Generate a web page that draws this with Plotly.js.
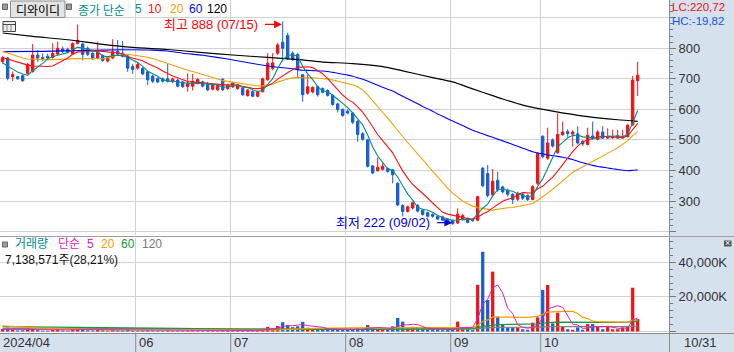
<!DOCTYPE html>
<html><head><meta charset="utf-8">
<script src="https://cdn.plot.ly/plotly-3.0.1.min.js"></script>
<style>html,body{margin:0;padding:0;background:#fff;overflow:hidden}#chart{width:734px;height:352px}</style>
</head><body><div id="chart"></div>
<script>
// ---------- data ----------
const monthLabels = ['2024/04', '06', '07', '08', '09', '10'];
const monthStartIdx = [0, 27, 46, 69, 90, 108];
const lastDateLabel = '10/31';
const highDateLabel = '07/15';
const lowDateLabel = '09/02';

const openP = [756,768,707,707,710,718,724,778,770,774, 770,781,798,797,781,816,814,800,783,768,
 776,758,768,790,784,775,740,735,734,723, 709,701,700,700,691,696,690,675,676,686,
 690,685,666,664,698,668,674,668,669,645, 658,643,658,697,734,784,820,842,784,780,
 713,653,657,674,668,662,646,618,600,594, 588,560,520,500,415,399,404,406,402,358,
 285,266,277,285,270,262,256,250,248,240, 237,228,240,243,239,237,407,390,320,368,
 346,335,322,306,322,318,305,358,512,440, 500,458,517,527,519,520,495,485,513,502,
 526,506,507,506,506,511,550,694];
const highP = [775,772,724,710,714,752,814,794,783,782, 816,822,806,802,820,878,818,806,788,822,
 780,774,830,827,824,778,748,752,738,727, 713,705,704,751,704,700,694,718,716,702,
 694,690,684,684,703,684,690,684,672,667, 662,661,704,784,784,818,888,851,790,784,
 716,713,676,678,672,666,650,622,603,600, 592,565,526,504,418,442,425,410,405,362,
 290,285,298,290,275,265,260,254,252,244, 240,276,258,246,242,317,412,418,405,396,
 350,340,326,330,328,322,352,460,515,540, 505,587,560,535,532,545,500,540,560,532,
 545,538,533,533,533,552,710,756];
const lowP = [750,695,693,697,690,714,720,756,758,762, 766,778,785,784,778,812,760,775,762,764,
 756,754,764,776,770,723,716,730,712,680, 686,686,688,688,686,672,670,658,662,682,
 672,660,662,660,660,664,670,664,644,642, 640,640,655,694,728,778,757,762,758,702,
 625,648,652,642,652,642,612,590,576,584, 552,494,498,410,388,396,400,393,358,283,
 250,262,272,263,252,246,245,238,234,225, 222,225,236,227,232,234,345,312,315,330,
 325,315,290,300,303,300,302,352,440,435, 475,455,512,510,478,485,480,482,500,498,
 503,503,503,504,504,508,545,644];
const closeP = [769,702,714,700,694,747,778,768,766,768, 783,800,790,788,815,826,780,780,766,788,
 760,770,789,781,774,735,731,747,716,697, 692,690,692,692,699,676,675,686,692,698,
 676,664,680,679,664,680,686,680,648,663, 643,657,700,751,752,811,800,767,763,730,
 648,674,672,648,656,646,616,600,580,588, 558,518,502,414,392,410,414,397,386,287,
 266,281,294,267,256,250,250,241,237,228, 226,257,252,230,236,314,350,318,365,337,
 330,322,305,325,309,305,347,456,445,490, 480,518,526,521,526,490,487,515,506,526,
 506,511,511,513,512,548,696,712];
const volumeK = [1500,2200,900,600,700,1300,2000,800,500,500, 1000,1200,600,500,1400,1800,1100,700,600,900,
 700,500,1000,700,600,1000,500,500,600,800, 500,400,400,700,400,500,400,600,700,500,
 400,500,400,400,600,400,500,400,600,500, 500,600,1500,2600,1800,3200,5400,3800,2500,3000,
 5600,2200,1500,1800,1200,1000,1500,1400,1300,900, 1200,1800,1400,3800,2600,1500,1200,1000,3000,7800,
 5700,1800,2700,1800,1800,1300,1300,1300,800,900, 1300,5700,2400,1800,800,27000,46100,18200,34600,8600,
 3800,2400,2400,2400,1300,1000,5100,8200,24000,26900, 4700,10900,3200,1300,1000,2400,1000,4300,4300,2700,
 1300,2700,1300,1300,2400,2700,25300,7139];

// moving-average values before enough visible history exists
const ma5Lead = [752, 742, 732, 722];
const ma10Lead = [770, 765, 760, 754, 749, 745, 742, 741, 741];
const ma20Lead = [790,784,778,772,768,765,764,763,763,763,763,764,764,765,765,766,766,766,766];
const ma60LeadIdx = [0, 8, 16, 24, 30, 33, 36, 40, 45, 50, 55, 58];
const ma60LeadVal = [789, 790, 793, 795, 794, 791, 784, 777, 765, 750, 738, 733];
const ma120Idx = [0,6,13,20,26,33,40,46,53,60,64,70,76,80,86,90,94,98,100,104,110,117,123,127];
const ma120Val = [850,839,828,813,803,796,786,778,770,762,755,750,740,726,704,690,667,645,634,614,594,576,566,561];

const volMa5Lead = [1200, 1300, 1300, 1200];
const volMa20Lead = [3200,3100,3000,2900,2700,2400,2200,2000,1900,1800,1700,1600,1500,1400,1300,1250,1200,1100,1050];
const volMa60LeadIdx = [0, 14, 35, 50, 58];
const volMa60LeadVal = [2800, 2500, 1800, 1200, 1050];
const volMa120Idx = [0, 45, 94, 95, 96, 97, 98, 107, 108, 109, 125, 126, 127];
const volMa120Val = [1800, 1500, 1400, 1620, 2000, 2150, 2430, 2450, 2640, 2860, 2870, 3070, 3100];

const priceTicks = [200, 300, 400, 500, 600, 700, 800, 900];
const priceTickText = ['', '300', '400', '500', '600', '700', '800', ''];
const volTicks = [0, 20000, 40000];
const volTickText = ['', '20,000K', '40,000K'];

// ---------- helpers ----------
const W = 734, H = 352;
const PX = x => x / W, PY = y => 1 - y / H;
const idx = closeP.map((_, i) => i);
function sma(values, n, lead) {
  return values.map((v, i) => {
    if (i < n - 1) return lead[i];
    let s = 0; for (let k = i - n + 1; k <= i; k++) s += values[k];
    return s / n;
  });
}
function smaTail(values, n, leadIdx, leadVal) {
  const xs = leadIdx.slice(), ys = leadVal.slice();
  for (let i = n - 1; i < values.length; i++) {
    let s = 0; for (let k = i - n + 1; k <= i; k++) s += values[k];
    xs.push(i); ys.push(s / n);
  }
  return {x: xs, y: ys};
}

const RED = '#f01414', BLUE = '#1a5fd0';
const C_TEAL = '#008c8c', C_RED = '#ff1010', C_ORANGE = '#f0a000', C_BLUE = '#0000ff', C_BLACK = '#000000';
const C_MAG = '#e020c8', C_GREEN = '#149a38', C_GRAY = '#808080';
const FONT_N = "'Liberation Sans Narrow', 'Liberation Sans', 'Noto Sans CJK KR', sans-serif";
const FONT_K = "'Noto Sans CJK KR', 'Liberation Sans', sans-serif";

const ma5 = sma(closeP, 5, ma5Lead);
const ma10 = sma(closeP, 10, ma10Lead);
const ma20 = sma(closeP, 20, ma20Lead);
const ma60 = smaTail(closeP, 60, ma60LeadIdx, ma60LeadVal);
const vma5 = sma(volumeK, 5, volMa5Lead);
const vma20 = sma(volumeK, 20, volMa20Lead);
const vma60 = smaTail(volumeK, 60, volMa60LeadIdx, volMa60LeadVal);
const barColors = closeP.map((c, i) => c >= openP[i] ? RED : BLUE);

const data = [
  {type: 'candlestick', x: idx, open: openP, high: highP, low: lowP, close: closeP,
   xaxis: 'x', yaxis: 'y', whiskerwidth: 0,
   increasing: {line: {color: RED, width: 1}, fillcolor: RED},
   decreasing: {line: {color: BLUE, width: 1}, fillcolor: BLUE}},
  {type: 'scatter', mode: 'lines', x: ma120Idx, y: ma120Val, line: {color: C_BLACK, width: 1.2, shape: 'spline', smoothing: 0.6}, xaxis: 'x', yaxis: 'y'},
  {type: 'scatter', mode: 'lines', x: ma60.x, y: ma60.y, line: {color: C_BLUE, width: 1.1, shape: 'spline', smoothing: 0.5}, xaxis: 'x', yaxis: 'y'},
  {type: 'scatter', mode: 'lines', x: idx, y: ma20, line: {color: C_ORANGE, width: 1.1}, xaxis: 'x', yaxis: 'y'},
  {type: 'scatter', mode: 'lines', x: idx, y: ma10, line: {color: C_RED, width: 1.1}, xaxis: 'x', yaxis: 'y'},
  {type: 'scatter', mode: 'lines', x: idx, y: ma5, line: {color: C_TEAL, width: 1.1}, xaxis: 'x', yaxis: 'y'},
  {type: 'bar', x: idx, y: volumeK, marker: {color: barColors, line: {width: 0}}, width: 0.66, xaxis: 'x', yaxis: 'y2'},
  {type: 'scatter', mode: 'lines', x: volMa120Idx, y: volMa120Val, line: {color: C_GRAY, width: 1.2, shape: 'spline', smoothing: 0.4}, xaxis: 'x', yaxis: 'y2'},
  {type: 'scatter', mode: 'lines', x: vma60.x, y: vma60.y, line: {color: C_GREEN, width: 1.2}, xaxis: 'x', yaxis: 'y2'},
  {type: 'scatter', mode: 'lines', x: idx, y: vma20, line: {color: C_ORANGE, width: 1.2}, xaxis: 'x', yaxis: 'y2'},
  {type: 'scatter', mode: 'lines', x: idx, y: vma5, line: {color: C_MAG, width: 1}, xaxis: 'x', yaxis: 'y2'}
];
data.forEach(t => { t.showlegend = false; t.hoverinfo = 'skip'; });

// ---------- annotations ----------
function txt(text, x, y, color, size, extra) {
  return Object.assign({xref: 'paper', yref: 'paper', x: PX(x), y: PY(y), text: text, showarrow: false,
    xanchor: 'left', yanchor: 'middle', borderpad: 0, font: {family: FONT_N, size: size, color: color}}, extra || {});
}
const maxHigh = Math.max(...highP), idxHigh = highP.indexOf(maxHigh);
const minLow = Math.min(...lowP), idxLow = lowP.indexOf(minLow);

const ann = [
  txt('디와이디', 38, 9.5, '#000', 12, {xanchor: 'center', font: {family: FONT_K, size: 12, color: '#000'}}),
  txt('종가 단순', 77, 9.5, C_TEAL, 12, {font: {family: FONT_K, size: 12, color: C_TEAL}}),
  txt('5', 134, 9.5, C_TEAL, 12),
  txt('10', 147, 9.5, C_RED, 12),
  txt('20', 169, 9.5, C_ORANGE, 12),
  txt('60', 188, 9.5, '#0000f0', 12),
  txt('120', 205.5, 9.5, '#000', 12),
  txt('LC:220,72', 670.5, 0, '#ee1111', 11.5, {yanchor: 'top'}),
  txt('HC:-19,82', 670.5, 14.5, '#1a55d8', 11.5, {yanchor: 'top'}),
  txt('거래량', 14, 252, C_TEAL, 12, {yanchor: 'bottom', font: {family: FONT_K, size: 12, color: C_TEAL}}),
  txt('단순', 57, 252, C_MAG, 12, {yanchor: 'bottom', font: {family: FONT_K, size: 12, color: C_MAG}}),
  txt('5', 86, 252, C_MAG, 12, {yanchor: 'bottom'}),
  txt('20', 100, 252, C_ORANGE, 12, {yanchor: 'bottom'}),
  txt('60', 120, 252, C_GREEN, 12, {yanchor: 'bottom'}),
  txt('120', 141, 252, '#777', 12, {yanchor: 'bottom'}),
  txt('7,138,571주(28,21%)', 4, 252, '#111', 12, {yanchor: 'top'}),
  txt(lastDateLabel, 683, 342.5, '#333', 13),
  txt('×', 727.8, 243.3, '#fff', 9, {xanchor: 'center'}),
  // high / low markers
  {xref: 'x', yref: 'y', x: idxHigh - 0.15, y: maxHigh - 10, text: '최고 ' + maxHigh + ' (' + highDateLabel + ')',
   showarrow: false, xanchor: 'right', yanchor: 'middle', xshift: -22, font: {family: FONT_N, size: 13, color: '#ff0000'}},
  {xref: 'x', yref: 'y', x: idxHigh - 0.15, y: maxHigh - 10, text: ' ', showarrow: true, ax: -20, ay: 0,
   arrowhead: 2, arrowsize: 1.3, arrowwidth: 1.2, arrowcolor: '#ff0000'},
  {xref: 'x', yref: 'y', x: idxLow - 0.1, y: minLow + 7, text: '최저 ' + minLow + ' (' + lowDateLabel + ')',
   showarrow: false, xanchor: 'right', yanchor: 'middle', xshift: -20, font: {family: FONT_N, size: 13, color: '#0000e0'}},
  {xref: 'x', yref: 'y', x: idxLow - 0.1, y: minLow + 7, text: ' ', showarrow: true, ax: -18, ay: 0,
   arrowhead: 2, arrowsize: 1.3, arrowwidth: 1.2, arrowcolor: '#0000e0'}
];
monthLabels.forEach((lab, k) => {
  if (k === 0) ann.push(txt(lab, 1.5, 342.5, '#333', 13));
  else ann.push({xref: 'x', yref: 'paper', x: monthStartIdx[k] - 0.4, y: PY(342.5), text: lab, showarrow: false,
    xanchor: 'left', yanchor: 'middle', xshift: 1, font: {family: FONT_N, size: 13, color: '#333'}});
});

// ---------- shapes ----------
const PANEL = '#d6e1ee', BORDER = '#8c8c8c';
function rectPx(x0, y0, x1, y1, fill, line, layer) {
  return {type: 'rect', xref: 'paper', yref: 'paper', x0: PX(x0), x1: PX(x1), y0: PY(y1), y1: PY(y0),
    fillcolor: fill, line: line || {width: 0}, layer: layer || 'above'};
}
function linePx(x0, y0, x1, y1, color, w) {
  return {type: 'line', xref: 'paper', yref: 'paper', x0: PX(x0), x1: PX(x1), y0: PY(y0), y1: PY(y1),
    line: {color: color, width: w || 1}, layer: 'above'};
}
const shapes = [
  rectPx(669.5, 0, 734, 352, PANEL, null, 'below'),
  rectPx(0, 333.5, 734, 352, PANEL, null, 'below'),
  linePx(669.5, 0, 669.5, 352, BORDER),
  linePx(0, 236.5, 734, 236.5, '#a0a0a0'),
  linePx(0, 333.5, 734, 333.5, BORDER),
  rectPx(2.5, 4, 7.5, 9.5, '#9c9c9c', {color: '#666', width: 1}),
  rectPx(66.5, 4, 71.5, 9.5, '#9c9c9c', {color: '#666', width: 1}),
  rectPx(2.5, 242, 7.5, 247, '#9c9c9c', {color: '#666', width: 1}),
  rectPx(10.5, 1, 65, 17.5, '#e4e4e4', {color: '#8c8c8c', width: 1}),
  rectPx(3, 21.5, 15.5, 31.5, '#ececec', {color: '#444', width: 1}),
  linePx(3, 24.5, 15.5, 24.5, '#444'), linePx(7, 24.5, 7, 31.5, '#888'), linePx(11, 24.5, 11, 31.5, '#888'),
  rectPx(724, 240.5, 731.5, 246.5, '#555', null)
];
monthStartIdx.slice(1).forEach(i => shapes.push({type: 'line', xref: 'x', yref: 'paper', x0: i - 0.4, x1: i - 0.4,
  y0: 0, y1: PY(333.5), line: {color: BORDER, width: 1}, layer: 'above'}));

// ---------- layout ----------
const GRID = '#d2d2d2';
const axisFont = {family: FONT_N, size: 13, color: '#333'};
const layout = {
  width: W, height: H, autosize: false, margin: {l: 0, r: 0, t: 0, b: 0, pad: 0},
  paper_bgcolor: '#ffffff', plot_bgcolor: '#ffffff', showlegend: false, boxgap: 0.32,
  xaxis: {domain: [0, 669 / W], range: [-0.54, 133.26], anchor: 'y2', tickmode: 'array',
    tickvals: monthStartIdx.slice(1).map(i => i - 0.4), showticklabels: false, ticks: '',
    showgrid: true, gridcolor: GRID, gridwidth: 1, zeroline: false, showline: false,
    rangeslider: {visible: false}, fixedrange: true},
  yaxis: {domain: [PY(235), 1], range: [188.7, 958.1], anchor: 'x', side: 'right', tickmode: 'array',
    tickvals: priceTicks, ticktext: priceTickText, ticks: 'outside', ticklen: 6, tickcolor: '#777', tickwidth: 1,
    tickfont: axisFont, showgrid: true, gridcolor: GRID, gridwidth: 1, zeroline: false, showline: false,
    minor: {tickmode: 'linear', tick0: 0, dtick: 20, ticks: 'outside', ticklen: 3, tickcolor: '#777', showgrid: false},
    fixedrange: true},
  yaxis2: {domain: [PY(333), PY(238)], range: [-867, 54043], anchor: 'x', side: 'right', tickmode: 'array',
    tickvals: volTicks, ticktext: volTickText, ticks: 'outside', ticklen: 6, tickcolor: '#777', tickwidth: 1,
    tickfont: axisFont, showgrid: true, gridcolor: GRID, gridwidth: 1, zeroline: false, showline: false,
    minor: {tickmode: 'linear', tick0: 0, dtick: 4000, ticks: 'outside', ticklen: 3, tickcolor: '#777', showgrid: false},
    fixedrange: true},
  annotations: ann,
  shapes: shapes
};
Plotly.newPlot('chart', data, layout, {staticPlot: true, displayModeBar: false});
</script>
</body></html>
